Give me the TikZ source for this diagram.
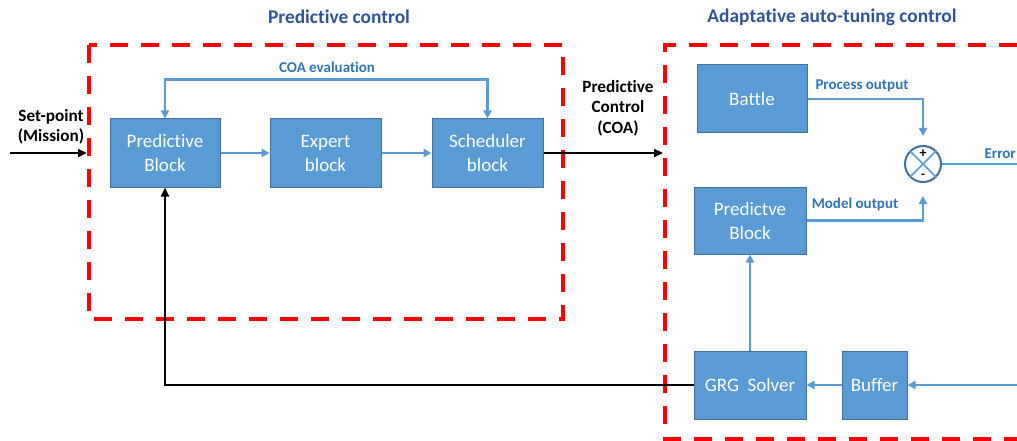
\documentclass[tikz,border=0pt]{standalone}
\usepackage{fontspec}
\setmainfont{Carlito}[Ligatures=NoCommon]
\usetikzlibrary{arrows.meta,calc}
\definecolor{boxfill}{HTML}{5B9BD5}
\definecolor{boxline}{HTML}{41719C}
\definecolor{wire}{HTML}{5B9BD5}
\definecolor{lbl}{HTML}{2E75B6}
\definecolor{ttl}{HTML}{2F5597}
\tikzset{
  blk/.style={draw=boxline, line width=1pt, fill=boxfill, text=white, align=center,
    font=\fontsize{19}{24}\selectfont, inner sep=0pt},
  wirearrow/.style={draw=wire, line width=2.2pt, -{Triangle[length=8pt,width=8pt]}},
  blackarrow/.style={draw=black, line width=2.6pt, -{Triangle[length=9pt,width=8pt]}},
  region/.style={draw=red, line width=3.6pt, dash pattern=on 18pt off 13pt},
  wlabel/.style={text=lbl, font=\bfseries\fontsize{15}{17}\selectfont},
  title/.style={text=ttl, font=\bfseries\fontsize{19.4}{22}\selectfont},
  klabel/.style={text=black, align=center, font=\bfseries\fontsize{17.2}{20.5}\selectfont},
}
\begin{document}
\begin{tikzpicture}[x=1pt,y=-1pt]
\useasboundingbox (0,0) rectangle (1017,441);

% section titles
\node[title] (t1) at (339,17) {Predictive control};
\node[title] (t2) at (832,17) {Adaptative auto-tuning control};

% dashed regions
\draw[region] (89,45) rectangle (563,319);
\draw[region] (1017,45) -- (665,45) -- (665,439) -- (1017,439);

% predictive chain
\node[blk, minimum width=110pt, minimum height=68pt] (pb) at (165,153) {Predictive\\Block};
\node[blk, minimum width=111pt, minimum height=68pt] (eb) at (325.5,153) {Expert\\block};
\node[blk, minimum width=111pt, minimum height=68pt] (sb) at (487.5,153) {Scheduler\\block};

% auto-tuning blocks
\node[blk, minimum width=110pt, minimum height=68pt] (bt) at (752,99) {Battle};
\node[blk, minimum width=112pt, minimum height=67pt] (pm) at (750,220.5) {Predictve\\Block};
\node[blk, minimum width=112pt, minimum height=68pt] (grg) at (750,385) {GRG\ \ Solver};
\node[blk, minimum width=65pt, minimum height=68pt] (buf) at (874.5,385) {Buffer};

% summing junction
\node[circle, draw=boxline, fill=white, line width=2pt, minimum size=36pt, inner sep=0pt] (sum) at (923,164) {};
\draw[wire, line width=1.6pt] (sum.north west) -- (sum.south east);
\draw[wire, line width=1.6pt] (sum.north east) -- (sum.south west);
\node[font=\bfseries\fontsize{14}{14}\selectfont, inner sep=0pt] (plus) at (923,154) {+};
\node[font=\bfseries\fontsize{13}{13}\selectfont, inner sep=0pt] (minus) at (923,176) {-};

% free ends
\coordinate (spin) at (10,153);
\coordinate (spout) at (87,153);
\coordinate (coaout) at (663,153);
\coordinate (errout) at (1017,164);
\coordinate (bufin) at (1017,385);

% connectors inside predictive control
\draw[wirearrow] (pb) -- (eb);
\draw[wirearrow] (eb) -- (sb);
\draw[draw=wire, line width=2.2pt, {Triangle[length=8pt,width=8pt]}-{Triangle[length=8pt,width=8pt]}]
  (pb.north) -- ++(0,-39) -| (sb.north);
\node[wlabel] (coaeval) at (327,67) {COA evaluation};

% set-point input and COA output
\draw[blackarrow] (spin) -- (spout);
\node[klabel] (sp) at (51,127) {Set-point\\(Mission)};
\draw[blackarrow] (sb.east) -- (coaout);
\node[klabel] (coa) at (618,108) {Predictive\\Control\\(COA)};

% auto-tuning connectors
\draw[wirearrow, shorten >=9pt] (bt.east) -| (sum.north);
\node[wlabel] (po) at (862,86) {Process output};
\draw[wirearrow, shorten >=13pt] (pm.east) -| (sum.south);
\node[wlabel] (mo) at (855,204) {Model output};
\draw[draw=wire, line width=2.2pt] (sum.east) -- (errout);
\node[wlabel, anchor=east, inner sep=1pt] (err) at (1017,154) {Error};
\draw[wirearrow] (grg.north) -- (pm.south);
\draw[wirearrow] (buf.west) -- (grg.east);
\draw[wirearrow] (bufin) -- (buf.east);

% feedback to the predictive block
\draw[blackarrow] (grg.west) -| (pb.south);
\end{tikzpicture}
\end{document}
